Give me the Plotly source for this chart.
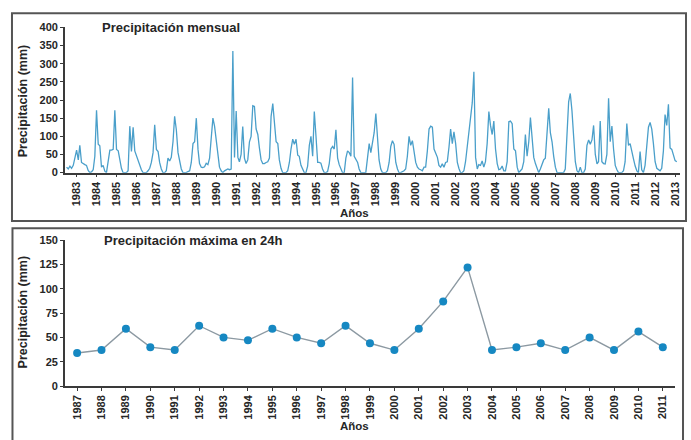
import pandas as pd
import plotly.graph_objects as go
from plotly.subplots import make_subplots

# Monthly precipitation (mm), consecutive months starting July 1982
monthly_start = "1982-07-01"
monthly_precip = [
    15, 10, 18, 12, 20, 38,
    62, 35, 75, 28, 24, 22, 20, 6, 0, 2, 8, 45,
    172, 78, 74, 15, 20, 4, 0, 30, 62, 62, 64, 172,
    64, 60, 37, 12, 0, 0, 0, 5, 128, 58, 125, 60,
    45, 30, 18, 8, 0, 0, 0, 5, 12, 28, 55, 132,
    64, 58, 28, 10, 0, 0, 5, 40, 32, 42, 85, 155,
    118, 55, 28, 10, 0, 0, 0, 3, 5, 28, 80, 85,
    150, 64, 25, 15, 14, 16, 26, 22, 40, 95, 150, 128,
    85, 40, 15, 5, 0, 5, 8, 10, 8, 10, 335, 42,
    170, 42, 30, 50, 127, 40, 25, 35, 85, 100, 184, 182,
    120, 105, 68, 35, 25, 25, 28, 30, 40, 155, 190, 130,
    85, 80, 35, 12, 0, 0, 0, 5, 28, 65, 92, 78,
    92, 48, 45, 20, 8, 0, 0, 18, 75, 100, 45, 168,
    100, 28, 28, 26, 10, 0, 0, 3, 25, 65, 72, 65,
    118, 40, 22, 8, 0, 0, 40, 60, 55, 45, 262, 45,
    36, 28, 10, 0, 0, 0, 0, 40, 80, 55, 80, 110,
    163, 88, 35, 10, 0, 0, 0, 5, 28, 72, 88, 78,
    28, 10, 0, 0, 2, 5, 10, 45, 100, 75, 88, 55,
    28, 15, 10, 8, 5, 15, 15, 60, 120, 128, 125, 65,
    55, 42, 20, 15, 24, 15, 28, 30, 70, 120, 80, 112,
    80, 28, 12, 0, 0, 5, 30, 70, 108, 155, 192, 278,
    42, 10, 22, 20, 32, 15, 30, 80, 168, 130, 105, 142,
    65, 25, 8, 10, 18, 5, 5, 30, 140, 142, 135, 65,
    60, 15, 0, 5, 10, 30, 105, 45, 85, 152, 85, 42,
    25, 8, 0, 10, 22, 35, 40, 110, 177, 110, 85, 45,
    15, 0, 0, 0, 0, 0, 10, 100, 195, 218, 170, 100,
    30, 5, 0, 15, 0, 0, 10, 75, 90, 78, 90, 130,
    50, 24, 30, 142, 30, 25, 24, 50, 205, 85, 128, 65,
    20, 8, 0, 0, 0, 5, 30, 135, 75, 80, 62, 38,
    18, 5, 0, 58, 8, 0, 20, 80, 125, 138, 120, 80,
    30, 12, 8, 5, 12, 60, 160, 130, 188, 68, 64, 45,
    33, 30,
]

# Maximum precipitation in 24 h (mm), by year
max24_years = [str(y) for y in range(1987, 2012)]
max24_precip = [34, 37, 59, 40, 37, 62, 50, 47, 59, 50, 44, 62, 44,
                37, 59, 87, 122, 37, 40, 44, 37, 50, 37, 56, 40]

top_ticks = [0, 50, 100, 150, 200, 250, 300, 350, 400]
bottom_ticks = [0, 25, 50, 75, 100, 125, 150]

W, H = 691, 440
FONT = "Liberation Sans"
DARK = "#262626"
AXIS = "#3a3a3a"


def px(x):
    return x / W


def py(y):
    return 1 - y / H


months = pd.date_range(start=monthly_start, periods=len(monthly_precip), freq="MS")

fig = make_subplots(rows=2, cols=1)

fig.add_trace(go.Scatter(
    x=months, y=monthly_precip, mode="lines",
    line=dict(color="#4a9fca", width=1.3),
    showlegend=False, hoverinfo="skip"), row=1, col=1)

fig.add_trace(go.Scatter(
    x=max24_years, y=max24_precip, mode="lines+markers",
    line=dict(color="#8c99a2", width=1.4),
    marker=dict(color="#1688c2", size=8),
    showlegend=False), row=2, col=1)

tickfont = dict(family=FONT, size=11, color=DARK, weight="bold")
axis_common = dict(showline=True, linecolor=AXIS, linewidth=1.6,
                   ticks="outside", ticklen=3, tickcolor=AXIS, tickwidth=1.2,
                   showgrid=False, zeroline=False, tickfont=tickfont)

fig.update_xaxes(
    domain=[px(65), px(681)], type="date",
    range=["1982-06-01", "2013-04-01"],
    tick0="1983-01-01", dtick="M12", tickformat="%Y", tickangle=-90,
    **axis_common, row=1, col=1)
fig.update_yaxes(
    domain=[py(171.3), py(22)], range=[0, 400],
    tickvals=top_ticks, **axis_common, row=1, col=1)

fig.update_xaxes(
    domain=[px(65), px(676)], type="category", range=[-0.5, 24.5],
    tickangle=-90, **axis_common, row=2, col=1)
fig.update_yaxes(
    domain=[py(390.7), py(240.7)], range=[0, 150],
    tickvals=bottom_ticks, **axis_common, row=2, col=1)


def bold(size):
    return dict(family=FONT, size=size, color=DARK, weight="bold")


annotations = [
    dict(text="Precipitación mensual", x=px(100), y=py(22), xanchor="left", font=bold(13)),
    dict(text="Precipitación máxima en 24h", x=px(102), y=py(241.5), xanchor="left", font=bold(13)),
    dict(text="Años", x=px(355), y=py(213), xanchor="center", font=bold(11.5)),
    dict(text="Años", x=px(355), y=py(432), xanchor="center", font=bold(11.5)),
    dict(text="Precipitación (mm)", x=px(23), y=py(97), xanchor="center",
         textangle=-90, font=bold(12.5)),
    dict(text="Precipitación (mm)", x=px(23), y=py(314), xanchor="center",
         textangle=-90, font=bold(12.5)),
]
for a in annotations:
    a.update(xref="paper", yref="paper", yanchor="middle", showarrow=False)

shapes = [
    dict(type="rect", xref="paper", yref="paper",
         x0=px(12), x1=px(687), y0=py(221), y1=py(7.5),
         line=dict(color="#555555", width=2)),
    dict(type="rect", xref="paper", yref="paper",
         x0=px(12.5), x1=px(684), y0=py(460), y1=py(228.5),
         line=dict(color="#555555", width=2)),
]

fig.update_layout(
    width=W, height=H,
    margin=dict(l=0, r=0, t=0, b=0),
    paper_bgcolor="white", plot_bgcolor="white",
    annotations=annotations, shapes=shapes,
    font=dict(family=FONT),
)

fig.write_html("out.html")
